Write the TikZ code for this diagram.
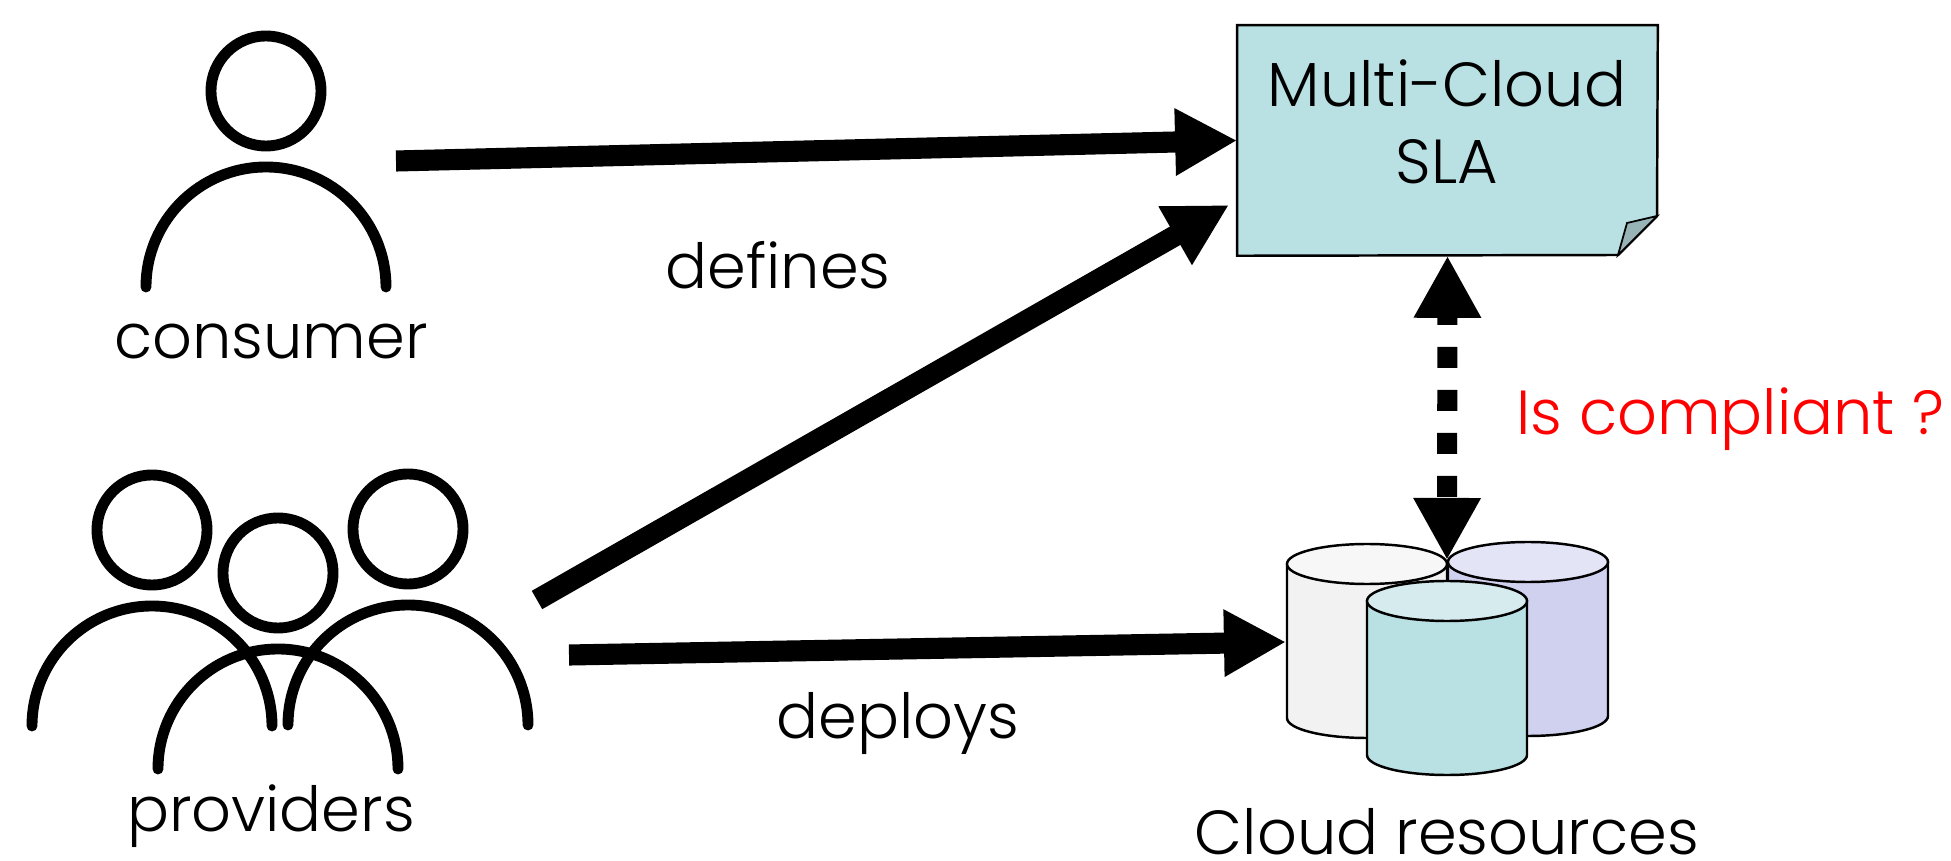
\documentclass[tikz,border=0pt]{standalone}
\usepackage{fontspec}
\setmainfont{Poppins Light}
\usetikzlibrary{arrows.meta,shapes.geometric,calc}
\definecolor{sheetblue}{HTML}{B9E0E3}
\definecolor{sheetfold}{HTML}{97B3B6}
\definecolor{cloudgrey}{HTML}{F2F2F2}
\definecolor{cloudgreytop}{HTML}{F7F7F7}
\definecolor{cloudviolet}{HTML}{D0D1EE}
\definecolor{cloudviolettop}{HTML}{E3E4F5}
\definecolor{cloudteal}{HTML}{B9E0E3}
\definecolor{cloudtealtop}{HTML}{D6EBEE}
\newcommand{\labelSize}[0]{\fontsize{17.7}{22}\selectfont}
% one person, (#1,#2) is the middle of the head
\newcommand{\person}[3]{
  \node[head] (#3) at (#1,#2) {};
  \draw[body] ($(#1,#2)+(-120,196)$) arc[start angle=180,end angle=360,x radius=120,y radius=120];
}
% one cylinder, (#1,#2) is the middle of the top ellipse
\newcommand{\cloudCylinder}[5]{
  \filldraw[cloudline,fill=#4] (#1-80,#2) -- (#1-80,#2+154) arc[start angle=180,end angle=360,x radius=80,y radius=-20] -- (#1+80,#2) -- cycle;
  \filldraw[cloudline,fill=#5] (#1,#2) ellipse[x radius=80,y radius=20];
  \node[inner sep=0pt,minimum width=1.6cm,minimum height=1.94cm] (#3) at (#1,#2+77) {};
}
\begin{document}
\begin{tikzpicture}[x=0.01cm,y=-0.01cm]
  \tikzset{
    head/.style={draw,line width=3.1pt,ellipse,inner sep=0pt,minimum width=1.1cm,minimum height=1.1cm},
    body/.style={line width=3.1pt,line cap=round},
    label/.style={inner sep=0pt,align=center,font=\labelSize},
    bigarrow/.style={line width=6pt,-{Triangle[length=0.62cm,width=0.63cm]}},
    bigdashed/.style={line width=5.7pt,dash pattern=on 5.97pt off 6.26pt,dash phase=2.85pt,{Triangle[length=0.62cm,width=0.63cm]}-{Triangle[length=0.62cm,width=0.63cm]}},
    cloudline/.style={line width=0.7pt},
  }
  \useasboundingbox (0,0) rectangle (1951,861);
  % people
  \person{266}{91}{consumerhead}
  \node[label] (consumer) at (271,341) {consumer};
  \person{152}{530}{providerleft}
  \person{408}{529}{providerright}
  \person{278}{573}{providermiddle}
  \node[label] (providers) at (271,816) {providers};
  % sheet
  \node[inner sep=0pt,minimum width=4.19cm,minimum height=2.29cm] (sla) at (1447.5,140.5) {};
  \filldraw[fill=sheetblue,line width=0.7pt] (sla.north west) -- (sla.north east) -- (1657,216) -- (1618,255) -- (sla.south west) -- cycle;
  \filldraw[fill=sheetfold,line width=0.5pt] (1657,216) -- (1627,223) -- (1618,255) -- cycle;
  \node[label] (slatext) at (1447,122) {Multi-Cloud\\SLA};
  % cylinders
  \cloudCylinder{1367}{564}{cloudleft}{cloudgrey}{cloudgreytop}
  \cloudCylinder{1528}{562}{cloudright}{cloudviolet}{cloudviolettop}
  \cloudCylinder{1447}{601}{cloudmiddle}{cloudteal}{cloudtealtop}
  \node[label] (cloud) at (1447,832) {Cloud resources};
  % arrows
  \coordinate (consumerout) at (396,161);
  \coordinate (providerup) at (537,600);
  \coordinate (slain) at (1229,205);
  \coordinate (providerout) at (569,655);
  \coordinate (cloudin) at (1286,642);
  \coordinate (cloudtip) at (1447,560);
  \draw[bigarrow] (consumerout) -- (sla.west);
  \draw[bigarrow] (providerup) -- (slain);
  \draw[bigarrow] (providerout) -- (cloudin);
  \draw[bigdashed] (sla.south) -- (cloudtip);
  \node[label] (defines) at (778,265) {defines};
  \node[label] (deploys) at (898,723) {deploys};
  \node[label,text=red] (compliant) at (1730,419) {Is compliant ?};
\end{tikzpicture}
\end{document}
